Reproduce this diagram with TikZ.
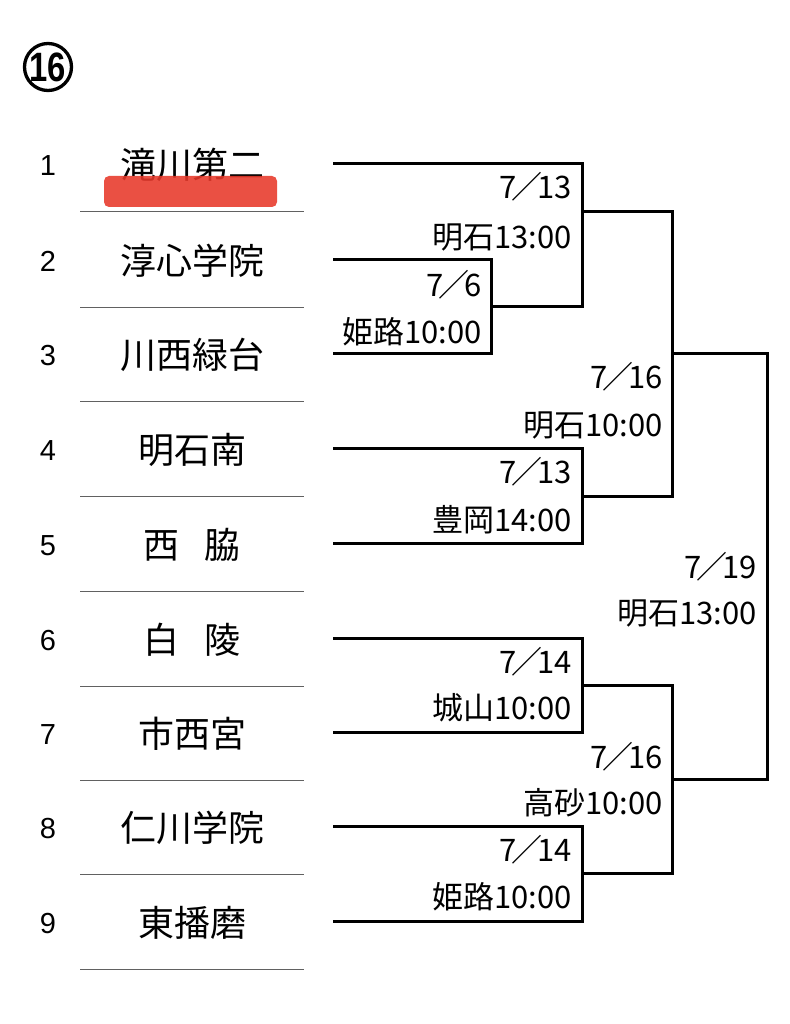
\documentclass[tikz,border=0pt]{standalone}
\usepackage{fontspec}
\usepackage{graphicx}
\setmainfont{Noto Sans CJK JP}
\newfontfamily\latinsans{Liberation Sans}
\definecolor{hl}{RGB}{232,56,42}
\begin{document}
\begin{tikzpicture}[x=1pt,y=-1pt,
  bracket/.style={line width=3pt, line join=miter, line cap=rect},
  sepline/.style={line width=1pt, draw=black!62},
  team/.style={anchor=base, inner sep=0pt, font=\fontsize{36}{36}\selectfont},
  num/.style={anchor=base, inner sep=0pt, font=\latinsans\fontsize{29}{29}\selectfont},
  info/.style={anchor=base east, inner sep=0pt, font=\fontsize{31}{31}\selectfont},
  badge/.style={draw, circle, line width=3.3pt, minimum size=47pt, inner sep=0pt,
    font=\latinsans\bfseries\fontsize{41}{41}\selectfont},
]
\fill[white] (0,0) rectangle (789,1024);
\useasboundingbox (0,0) rectangle (789,1024);

\node[badge] (badge) at (48,67) {\scalebox{0.8}[1]{16}};

\foreach \i/\y/\name in {1/164/{滝川第二}, 2/259/{淳心学院}, 3/353/{川西緑台},
  4/448/{明石南}, 5/543/{西\kern26pt 脇}, 6/638/{白\kern26pt 陵},
  7/732/{市西宮}, 8/826/{仁川学院}, 9/921/{東播磨}} {
  \node[num] (n\i) at (48,\y+12) {\i};
  \node[team] (team\i) at (192,\y+15) {\name};
  \coordinate (t\i) at (334,\y);
  \draw[sepline] (80,\y+48) -- (304,\y+48);
}

\fill[hl, rounded corners=5pt, opacity=0.88] (104,176) rectangle (277,207);

\coordinate (a23) at (491,306);
\coordinate (m1) at (582,212);
\coordinate (m45) at (582,496);
\coordinate (s1) at (672,353);
\coordinate (m67) at (582,685);
\coordinate (m89) at (582,873);
\coordinate (s2) at (672,779);
\coordinate (fin) at (767,566);

\draw[bracket] (t2) -| (a23) |- (t3);
\draw[bracket] (t1) -| (m1) |- (a23);
\draw[bracket] (t4) -| (m45) |- (t5);
\draw[bracket] (m1) -| (s1) |- (m45);
\draw[bracket] (t6) -| (m67) |- (t7);
\draw[bracket] (t8) -| (m89) |- (t9);
\draw[bracket] (m67) -| (s2) |- (m89);
\draw[bracket] (s1) -| (fin) |- (s2);

\node[info] (d1) at (572,199) {7\kern-5pt／\kern-5pt13};
\node[info] (v1) at (572,248) {明石13:00};
\node[info] (d2) at (482,296) {7\kern-5pt／\kern-5pt6};
\node[info] (v2) at (482,343) {姫路10:00};
\node[info] (d3) at (663,388) {7\kern-5pt／\kern-5pt16};
\node[info] (v3) at (663,436) {明石10:00};
\node[info] (d4) at (572,483) {7\kern-5pt／\kern-5pt13};
\node[info] (v4) at (572,531) {豊岡14:00};
\node[info] (d5) at (757,578) {7\kern-5pt／\kern-5pt19};
\node[info] (v5) at (757,624) {明石13:00};
\node[info] (d6) at (572,673) {7\kern-5pt／\kern-5pt14};
\node[info] (v6) at (572,719) {城山10:00};
\node[info] (d7) at (663,768) {7\kern-5pt／\kern-5pt16};
\node[info] (v7) at (663,814) {高砂10:00};
\node[info] (d8) at (572,861) {7\kern-5pt／\kern-5pt14};
\node[info] (v8) at (572,908) {姫路10:00};
\end{tikzpicture}
\end{document}
